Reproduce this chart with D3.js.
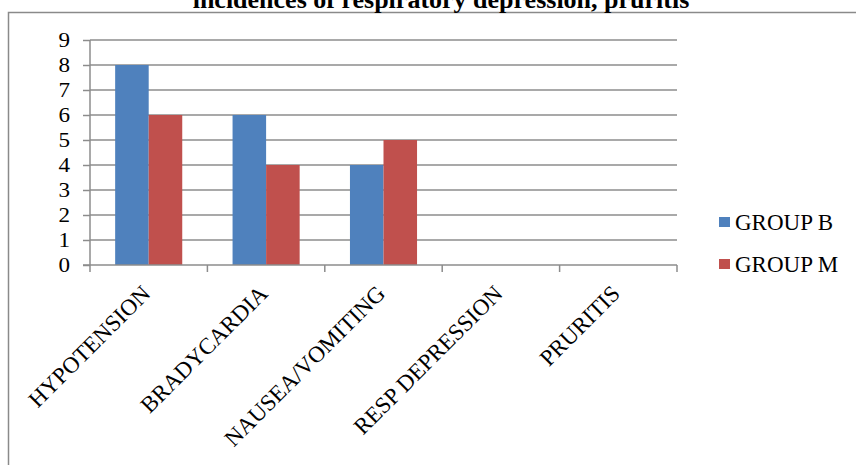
<!DOCTYPE html>
<html>
<head>
<meta charset="utf-8">
<script src="https://cdn.jsdelivr.net/npm/d3@7"></script>
<style>
  html, body { margin: 0; padding: 0; background: #fff; }
  svg { display: block; }
  text { font-family: "Liberation Serif", "Times New Roman", serif; fill: #000; }
</style>
</head>
<body>
<svg id="chart" width="856" height="465"></svg>
<script>
// Adverse events per group
const categories = ["HYPOTENSION", "BRADYCARDIA", "NAUSEA/VOMITING", "RESP DEPRESSION", "PRURITIS"];
const seriesNames = ["GROUP B", "GROUP M"];
const groupB = [8, 6, 4, 0, 0];
const groupM = [6, 4, 5, 0, 0];
const yTicks = [0, 1, 2, 3, 4, 5, 6, 7, 8, 9];
const colors = ["#4F81BD", "#C0504D"];
const title = "incidences of respiratory depression, pruritis";

const series = [groupB, groupM];

const svg = d3.select("#chart");
const plot = { left: 90, right: 677, top: 40, bottom: 265 };

// Chart frame (extends past the visible canvas on the right and bottom)
svg.append("rect")
  .attr("x", 8.5).attr("y", 12.5)
  .attr("width", 880).attr("height", 480)
  .attr("fill", "none").attr("stroke", "#8a8a8a").attr("stroke-width", 1.5);

// Title, partly above the canvas
svg.append("text")
  .attr("x", 441).attr("y", 8)
  .attr("text-anchor", "middle")
  .attr("font-weight", "bold")
  .attr("font-size", 26)
  .text(title);

const x0 = d3.scaleBand().domain(categories).range([plot.left, plot.right]).paddingInner(0).paddingOuter(0);
// 150% gap between groups: each bar = band / 3.5
const x1 = d3.scaleBand().domain(seriesNames).range([0, x0.bandwidth()]).paddingInner(0).paddingOuter(0.75);
const y = d3.scaleLinear().domain([0, 9]).range([plot.bottom, plot.top]);

// Gridlines
svg.append("g").selectAll("line").data(yTicks.filter(d => d > 0)).join("line")
  .attr("x1", plot.left).attr("x2", plot.right)
  .attr("y1", d => y(d)).attr("y2", d => y(d))
  .attr("stroke", "#8c8c8c").attr("stroke-width", 1.5);

// Bars
const groups = svg.append("g").selectAll("g").data(categories).join("g")
  .attr("transform", d => `translate(${x0(d)},0)`);
groups.selectAll("rect")
  .data((c, i) => seriesNames.map((s, k) => ({ s, k, v: series[k][i] })))
  .join("rect")
  .attr("x", d => x1(d.s))
  .attr("width", x1.bandwidth())
  .attr("y", d => y(d.v))
  .attr("height", d => y(0) - y(d.v))
  .attr("fill", d => colors[d.k]);

// Y axis
const yAxis = d3.axisLeft(y).tickValues(yTicks).tickSize(7).tickPadding(20).tickFormat(d3.format("d"));
const gy = svg.append("g").attr("transform", `translate(${plot.left},0)`).call(yAxis);
gy.select(".domain").attr("stroke", "#8c8c8c").attr("stroke-width", 1.5).attr("d", `M0,${plot.top}V${plot.bottom}`);
gy.selectAll(".tick line").attr("stroke", "#8c8c8c").attr("stroke-width", 1.5);
gy.selectAll(".tick text")
  .attr("font-size", 21).attr("font-family", "Liberation Serif").attr("fill", "#000")
  .attr("x", null)
  .attr("transform", "translate(-20,0) scale(1.1,1)");

// X axis: ticks at category boundaries
const bounds = categories.map(c => x0(c)).concat([plot.right]);
const gx = svg.append("g");
gx.append("line")
  .attr("x1", plot.left - 7).attr("x2", plot.right)
  .attr("y1", plot.bottom).attr("y2", plot.bottom)
  .attr("stroke", "#8c8c8c").attr("stroke-width", 1.5);
gx.selectAll("line.tk").data(bounds).join("line").attr("class", "tk")
  .attr("x1", d => d).attr("x2", d => d)
  .attr("y1", plot.bottom).attr("y2", plot.bottom + 7)
  .attr("stroke", "#8c8c8c").attr("stroke-width", 1.5);
gx.selectAll("text").data(categories).join("text")
  .attr("transform", d => `translate(${x0(d) + x0.bandwidth() / 2 + 3},${plot.bottom + 30}) rotate(-45)`)
  .attr("text-anchor", "end")
  .attr("font-size", 23)
  .text(d => d);

// Legend
const lg = svg.append("g").selectAll("g").data(seriesNames).join("g")
  .attr("transform", (d, i) => `translate(719,${217 + i * 42})`);
lg.append("rect").attr("width", 11).attr("height", 10).attr("fill", (d, i) => colors[i]);
lg.append("text").attr("x", 16).attr("y", 12.5).attr("font-size", 23).text(d => d);
</script>
</body>
</html>
